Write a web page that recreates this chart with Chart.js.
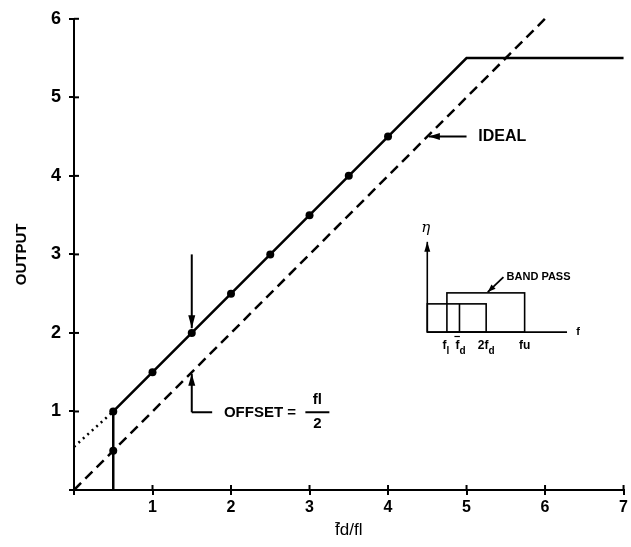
<!DOCTYPE html>
<html>
<head>
<meta charset="utf-8">
<script src="https://cdn.jsdelivr.net/npm/chart.js@4/dist/chart.umd.min.js"></script>
<style>
  html, body { margin: 0; padding: 0; background: #fff; }
  #wrap { width: 631px; height: 547px; }
</style>
</head>
<body>
<div id="wrap"><canvas id="c" width="631" height="547"></canvas></div>
<script>
// Measured response: output rises with slope 1 from f̄d/fl = 0.5, then saturates
const responseX = [0.5, 1, 1.5, 2, 2.5, 3, 3.5, 4, 5, 7];
const responseY = [1, 1.5, 2, 2.5, 3, 3.5, 4, 4.5, 5.5, 5.5];
const responseMarked = [true, true, true, true, true, true, true, true, false, false];

// Ideal response (output = input)
const idealX = [0, 0.5, 6];
const idealY = [0, 0.5, 6];
const idealMarked = [false, true, false];

// Extrapolation of the measured line back to the output axis
const extrapX = [0, 0.5];
const extrapY = [0.55, 1];

// Lower cutoff step at f̄d/fl = 0.5
const cutoffX = [0.5, 0.5];
const cutoffY = [0, 1];

// Axis ticks
const xTickValues = [0, 1, 2, 3, 4, 5, 6, 7];
const yTickValues = [0, 1, 2, 3, 4, 5, 6];

// Inset: band-pass sketch, in main-axis units
const insetOrigin = [4.5, 2.01];
const insetAxisEnd = [6.28, 3.16];
const insetSignalBox = [4.5, 5.25, 2.37];   // x0, x1, top
const insetPassBox = [4.75, 5.74, 2.51];    // x0, x1, top
const insetMeanFreq = 4.91;

const toPoints = (xs, ys) => xs.map((v, i) => ({ x: v, y: ys[i] }));

const FONT = '"Liberation Sans", Arial, sans-serif';

function arrow(ctx, x0, y0, x1, y1, len, half) {
  ctx.beginPath();
  ctx.moveTo(x0, y0);
  ctx.lineTo(x1, y1);
  ctx.stroke();
  const a = Math.atan2(y1 - y0, x1 - x0);
  ctx.beginPath();
  ctx.moveTo(x1, y1);
  ctx.lineTo(x1 - len * Math.cos(a) + half * Math.sin(a), y1 - len * Math.sin(a) - half * Math.cos(a));
  ctx.lineTo(x1 - len * Math.cos(a) - half * Math.sin(a), y1 - len * Math.sin(a) + half * Math.cos(a));
  ctx.closePath();
  ctx.fill();
}

// Tick marks that cross the axis lines
const crossTicks = {
  id: 'crossTicks',
  afterDraw(chart) {
    const { ctx, scales: { x, y } } = chart;
    ctx.save();
    ctx.strokeStyle = '#000';
    ctx.lineWidth = 2;
    x.ticks.forEach(t => {
      if (t.value === 0) return;
      const px = x.getPixelForValue(t.value);
      ctx.beginPath();
      ctx.moveTo(px, y.bottom - 5);
      ctx.lineTo(px, y.bottom);
      ctx.stroke();
    });
    y.ticks.forEach(t => {
      if (t.value === 0) return;
      const py = y.getPixelForValue(t.value);
      ctx.beginPath();
      ctx.moveTo(x.left, py);
      ctx.lineTo(x.left + 5, py);
      ctx.stroke();
    });
    ctx.restore();
  }
};

// Callouts and the band-pass inset
const annotate = {
  id: 'annotate',
  afterDatasetsDraw(chart) {
    const { ctx, scales: { x, y } } = chart;
    const X = v => x.getPixelForValue(v);
    const Y = v => y.getPixelForValue(v);
    ctx.save();
    ctx.strokeStyle = '#000';
    ctx.fillStyle = '#000';
    ctx.lineWidth = 2;
    ctx.lineCap = 'butt';

    // arrow pointing at the marked point
    arrow(ctx, X(1.5), Y(3.0), X(1.5), Y(2.06), 13, 3.5);

    // IDEAL callout
    arrow(ctx, X(5.0), Y(4.5), X(4.52), Y(4.5), 11, 3.5);
    ctx.font = 'bold 16px ' + FONT;
    ctx.textBaseline = 'middle';
    ctx.textAlign = 'left';
    ctx.fillText('IDEAL', X(5.15), Y(4.5));

    // OFFSET callout
    ctx.beginPath();
    ctx.moveTo(X(1.76), Y(0.99));
    ctx.lineTo(X(1.5), Y(0.99));
    ctx.stroke();
    arrow(ctx, X(1.5), Y(0.99), X(1.5), Y(1.48), 12, 3.5);
    ctx.font = 'bold 15px ' + FONT;
    ctx.fillText('OFFSET =', X(1.91), Y(0.98));
    const fx = X(3.1);
    ctx.textAlign = 'center';
    ctx.fillText('fl', fx, Y(1.15));
    ctx.fillText('2', fx, Y(0.84));
    ctx.beginPath();
    ctx.moveTo(fx - 12, Y(0.99));
    ctx.lineTo(fx + 12, Y(0.99));
    ctx.stroke();

    // inset axes
    const [ox, oy] = insetOrigin;
    ctx.lineWidth = 1.6;
    arrow(ctx, X(ox), Y(oy), X(ox), Y(insetAxisEnd[1]), 10, 3);
    ctx.beginPath();
    ctx.moveTo(X(ox), Y(oy));
    ctx.lineTo(X(insetAxisEnd[0]), Y(oy));
    ctx.stroke();
    ctx.font = 'italic 15px "DejaVu Serif", serif';
    ctx.textAlign = 'center';
    ctx.fillText('η', X(4.48), Y(3.33));
    ctx.font = 'bold 11px ' + FONT;
    ctx.fillText('f', X(6.42), Y(oy));

    // inset boxes
    ctx.lineWidth = 1.6;
    ctx.strokeRect(X(insetSignalBox[0]), Y(insetSignalBox[2]),
      X(insetSignalBox[1]) - X(insetSignalBox[0]), Y(oy) - Y(insetSignalBox[2]));
    ctx.strokeRect(X(insetPassBox[0]), Y(insetPassBox[2]),
      X(insetPassBox[1]) - X(insetPassBox[0]), Y(oy) - Y(insetPassBox[2]));
    ctx.beginPath();
    ctx.moveTo(X(insetMeanFreq), Y(oy));
    ctx.lineTo(X(insetMeanFreq), Y(insetSignalBox[2]));
    ctx.stroke();

    // BAND PASS label
    ctx.lineWidth = 1.8;
    arrow(ctx, X(5.47), Y(2.71), X(5.27), Y(2.52), 8, 3);
    ctx.font = 'bold 11px ' + FONT;
    ctx.textAlign = 'left';
    ctx.fillText('BAND PASS', X(5.51), Y(2.71));

    // inset frequency labels with subscripts
    const ly = Y(1.84);
    const sub = (main, s, cx, bar) => {
      ctx.font = 'bold 12px ' + FONT;
      const w1 = ctx.measureText(main).width;
      ctx.font = 'bold 10px ' + FONT;
      const w2 = ctx.measureText(s).width;
      const left = cx - (w1 + w2) / 2;
      ctx.textAlign = 'left';
      ctx.font = 'bold 12px ' + FONT;
      ctx.fillText(main, left, ly);
      if (bar) {
        ctx.beginPath();
        ctx.lineWidth = 1.2;
        ctx.moveTo(left + w1 - 5, ly - 9);
        ctx.lineTo(left + w1 + 0.5, ly - 9);
        ctx.stroke();
      }
      ctx.font = 'bold 10px ' + FONT;
      ctx.fillText(s, left + w1, ly + 6);
    };
    sub('f', 'l', X(insetPassBox[0]) - 1, false);
    sub('f', 'd', X(insetMeanFreq) + 1, true);
    sub('2f', 'd', X(insetSignalBox[1]), false);
    ctx.font = 'bold 12px ' + FONT;
    ctx.textAlign = 'center';
    ctx.fillText('fu', X(insetPassBox[1]), ly);

    ctx.restore();
  }
};

new Chart(document.getElementById('c'), {
  type: 'scatter',
  data: {
    datasets: [
      {
        label: 'response',
        data: toPoints(responseX, responseY),
        showLine: true,
        borderColor: '#000',
        backgroundColor: '#000',
        borderWidth: 2.5,
        pointRadius: responseMarked.map(m => (m ? 4 : 0)),
        pointBorderWidth: 0,
        clip: false
      },
      {
        label: 'ideal',
        data: toPoints(idealX, idealY),
        showLine: true,
        borderColor: '#000',
        backgroundColor: '#000',
        borderWidth: 2.5,
        borderDash: [10, 6],
        pointRadius: idealMarked.map(m => (m ? 4 : 0)),
        pointBorderWidth: 0,
        clip: false
      },
      {
        label: 'extrapolation',
        data: toPoints(extrapX, extrapY),
        showLine: true,
        borderColor: '#000',
        borderWidth: 2.5,
        borderDash: [2, 4],
        pointRadius: 0
      },
      {
        label: 'cutoff',
        data: toPoints(cutoffX, cutoffY),
        showLine: true,
        borderColor: '#000',
        borderWidth: 2.5,
        pointRadius: 0
      }
    ]
  },
  options: {
    responsive: false,
    animation: false,
    events: [],
    layout: { padding: { top: 16, right: 7, left: 0, bottom: 0 } },
    plugins: { legend: { display: false }, tooltip: { enabled: false } },
    scales: {
      x: {
        type: 'linear',
        min: 0,
        max: 7,
        afterBuildTicks: s => { s.ticks = xTickValues.map(v => ({ value: v })); },
        afterFit: s => { s.height = 57; },
        border: { color: '#000', width: 2 },
        grid: { display: true, drawOnChartArea: false, drawTicks: true, tickLength: 5, color: '#000', lineWidth: 2 },
        ticks: {
          color: '#000',
          padding: 3,
          font: { family: FONT, size: 16, weight: 'bold' },
          callback: v => (v === 0 ? '' : String(v))
        },
        title: {
          display: true,
          text: 'f\u0304d/fl',
          color: '#000',
          font: { family: FONT, size: 17 },
          padding: { top: 0, bottom: 6 }
        }
      },
      y: {
        type: 'linear',
        min: 0,
        max: 6,
        afterBuildTicks: s => { s.ticks = yTickValues.map(v => ({ value: v })); },
        afterFit: s => { s.width = 74; },
        border: { color: '#000', width: 2 },
        grid: { display: true, drawOnChartArea: false, drawTicks: true, tickLength: 5, color: '#000', lineWidth: 2 },
        ticks: {
          color: '#000',
          padding: 8,
          font: { family: FONT, size: 18, weight: 'bold' },
          callback: v => (v === 0 ? '' : String(v))
        },
        title: {
          display: true,
          text: 'OUTPUT',
          color: '#000',
          font: { family: FONT, size: 15, weight: 'bold' },
          padding: { top: 13, bottom: 0 }
        }
      }
    }
  },
  plugins: [crossTicks, annotate]
});
</script>
</body>
</html>
